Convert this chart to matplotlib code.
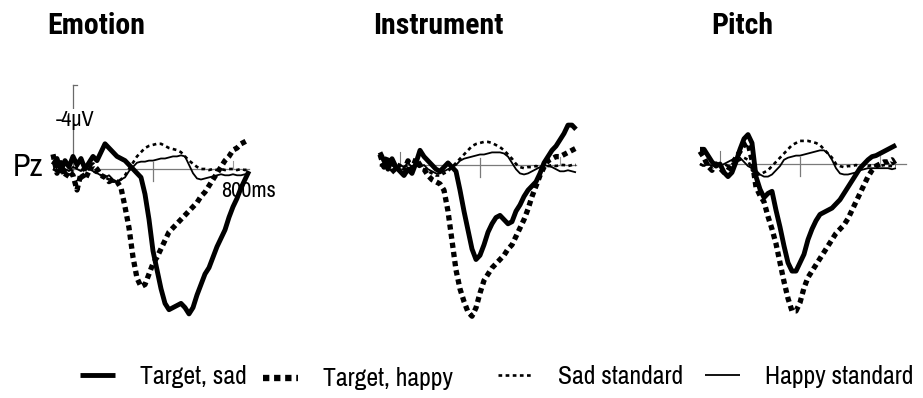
import numpy as np
import matplotlib
matplotlib.use('Agg')
from matplotlib import pyplot as plt
from matplotlib.lines import Line2D

# narrow grotesque for all labels, regular sans if it is missing
NARROW = ['Archivo Narrow', 'Liberation Sans', 'DejaVu Sans']
NARROW_BOLD = ['Roboto Condensed', 'Asap Condensed', 'Liberation Sans', 'DejaVu Sans']
plt.rcParams['font.family'] = NARROW

# time base of the averaged epochs (ms), one sample every 20 ms
t_ms = np.arange(-100, 881, 20)

conditions = ['Emotion', 'Instrument', 'Pitch']

# amplitudes in microvolts at Pz (negative plotted up)
emotion_target_sad = [
    -0.2, -0.5, 0.1, -0.4, -0.1, -0.6, -0.2, -0.5, 0.0, -0.3,
    -0.6, -0.4, -0.8, -1.2, -1.0, -0.8, -0.6, -0.5, -0.4, -0.2,
    0.0, 0.2, 0.4, 1.2, 2.4, 3.9, 4.8, 5.7, 6.4, 6.7,
    6.6, 6.5, 6.4, 6.6, 6.9, 6.6, 6.0, 5.5, 5.0, 4.7,
    4.2, 3.7, 3.3, 2.9, 2.3, 1.8, 1.4, 0.9, 0.5, 0.1]
emotion_target_happy = [
    -0.7, 0.2, -0.3, 0.4, 0.1, 0.3, 1.0, 0.2, 0.5, 0.1,
    -0.2, 0.0, 0.3, 0.4, 0.6, 0.5, 0.6, 0.9, 1.8, 2.8,
    4.2, 5.2, 5.6, 5.5, 5.0, 4.5, 4.2, 3.8, 3.4, 3.0,
    2.8, 2.6, 2.4, 2.2, 2.0, 1.8, 1.6, 1.3, 1.1, 0.8,
    0.5, 0.2, -0.1, -0.4, -0.6, -0.9, -1.0, -1.2, -1.3, -1.4]
emotion_sad_std = [
    0.0, 0.1, -0.1, 0.1, 0.0, 0.1, -0.1, 0.0, 0.1, 0.0,
    0.1, 0.2, 0.3, 0.4, 0.5, 0.6, 0.6, 0.5, 0.3, 0.0,
    -0.3, -0.6, -0.8, -1.0, -1.1, -1.15, -1.2, -1.2, -1.1, -1.0,
    -0.95, -0.9, -0.8, -0.6, -0.4, -0.25, -0.1, 0.0, 0.0, 0.05,
    0.0, 0.05, 0.0, 0.05, 0.0, 0.0, 0.05, 0.0, 0.05, 0.0]
emotion_happy_std = [
    0.0, 0.1, -0.1, 0.0, 0.1, -0.1, 0.0, 0.1, -0.1, 0.0,
    0.1, 0.2, 0.3, 0.4, 0.3, 0.5, 0.6, 0.5, 0.4, 0.1,
    -0.1, -0.3, -0.35, -0.35, -0.4, -0.4, -0.45, -0.5, -0.5, -0.55,
    -0.6, -0.6, -0.65, -0.6, -0.2, 0.2, 0.45, 0.5, 0.45, 0.4,
    0.35, 0.3, 0.25, 0.3, 0.3, 0.25, 0.3, 0.3, 0.25, 0.3]

instrument_target_sad = [
    -0.6, -0.2, 0.2, -0.3, 0.1, 0.3, 0.5, 0.2, 0.4, -0.1,
    -0.7, -0.4, -0.2, 0.0, 0.2, 0.3, 0.1, -0.1, 0.1, 0.3,
    1.2, 2.2, 3.1, 4.0, 4.5, 4.3, 3.8, 3.2, 2.8, 2.5,
    2.4, 2.6, 2.8, 2.7, 2.2, 1.9, 1.5, 1.2, 1.0, 0.8,
    0.4, -0.1, -0.4, -0.7, -0.9, -1.2, -1.5, -1.9, -1.9, -1.7]
instrument_target_happy = [
    -0.5, 0.1, -0.4, 0.2, 0.4, 0.1, 0.3, -0.2, 0.2, -0.3,
    0.0, 0.2, 0.5, 0.7, 0.8, 0.9, 1.2, 2.2, 3.6, 5.0,
    5.9, 6.5, 7.0, 7.2, 6.8, 6.1, 5.5, 5.2, 4.9, 4.7,
    4.5, 4.3, 4.0, 3.8, 3.4, 3.0, 2.6, 2.1, 1.5, 1.0,
    0.5, 0.1, -0.2, -0.3, -0.4, -0.4, -0.5, -0.6, -0.7, -0.8]
instrument_sad_std = [
    0.0, 0.1, 0.0, 0.1, -0.1, 0.0, 0.1, 0.0, 0.1, 0.0,
    0.1, 0.2, 0.3, 0.4, 0.5, 0.5, 0.4, 0.3, 0.1, -0.1,
    -0.3, -0.5, -0.7, -0.9, -1.0, -1.05, -1.1, -1.1, -1.05, -0.95,
    -0.85, -0.7, -0.5, -0.3, -0.05, 0.1, 0.15, 0.1, 0.1, 0.05,
    0.1, 0.0, 0.05, 0.0, 0.05, 0.0, 0.0, 0.05, 0.0, 0.0]
instrument_happy_std = [
    0.0, -0.1, 0.1, 0.0, 0.2, 0.0, 0.1, -0.1, 0.1, 0.0,
    0.1, 0.0, 0.2, 0.3, 0.4, 0.4, 0.3, 0.2, 0.1, 0.0,
    -0.2, -0.3, -0.35, -0.4, -0.45, -0.5, -0.5, -0.55, -0.6, -0.6,
    -0.6, -0.55, -0.4, -0.1, 0.2, 0.4, 0.45, 0.4, 0.3, 0.2,
    0.1, 0.0, 0.05, 0.1, 0.2, 0.3, 0.3, 0.25, 0.3, 0.35]

pitch_target_sad = [
    -0.7, -0.7, -0.4, -0.1, 0.1, 0.0, 0.4, 0.6, 0.4, -0.1,
    -0.7, -1.2, -1.4, -1.0, 0.6, 1.2, 1.6, 1.4, 1.3, 2.2,
    3.0, 3.9, 4.7, 5.1, 5.1, 4.7, 4.3, 3.6, 3.1, 2.7,
    2.4, 2.3, 2.2, 2.1, 1.9, 1.7, 1.4, 1.1, 0.8, 0.5,
    0.2, 0.0, -0.2, -0.35, -0.4, -0.5, -0.6, -0.7, -0.8, -0.9]
pitch_target_happy = [
    -0.6, -0.3, 0.1, 0.3, 0.0, 0.2, 0.4, 0.3, 0.0, -0.3,
    -0.6, -0.9, -1.0, -0.2, 1.1, 1.5, 1.8, 2.5, 3.1, 3.8,
    4.7, 5.6, 6.4, 7.0, 7.0, 6.6, 5.9, 5.4, 5.1, 4.8,
    4.5, 4.2, 3.9, 3.6, 3.3, 3.1, 2.9, 2.6, 2.2, 1.8,
    1.4, 1.0, 0.6, 0.3, 0.1, 0.0, -0.1, -0.1, -0.2, 0.1]
pitch_sad_std = [
    0.0, 0.1, 0.0, 0.1, 0.0, 0.1, 0.0, 0.1, 0.0, -0.1,
    -0.2, -0.3, -0.2, 0.3, 0.5, 0.5, 0.4, 0.3, 0.1, -0.1,
    -0.3, -0.5, -0.7, -0.9, -1.0, -1.1, -1.1, -1.1, -1.05, -1.0,
    -0.9, -0.7, -0.5, -0.3, 0.0, 0.1, 0.15, 0.1, 0.1, 0.05,
    0.1, 0.05, 0.1, 0.05, 0.1, 0.1, 0.05, 0.1, 0.1, 0.1]
pitch_happy_std = [
    0.0, 0.1, 0.0, 0.1, 0.0, 0.1, 0.0, -0.1, -0.2, -0.3,
    -0.3, -0.1, 0.1, 0.2, 0.3, 0.5, 0.6, 0.6, 0.5, 0.3,
    0.1, -0.2, -0.3, -0.35, -0.4, -0.4, -0.45, -0.5, -0.55, -0.6,
    -0.65, -0.65, -0.5, -0.2, 0.2, 0.45, 0.5, 0.5, 0.45, 0.4,
    0.3, 0.25, 0.2, 0.2, 0.2, 0.2, 0.2, 0.2, 0.25, 0.2]

series_labels = ['Target, sad', 'Target, happy', 'Sad standard', 'Happy standard']
panels = [
    [emotion_target_sad, emotion_target_happy, emotion_sad_std, emotion_happy_std],
    [instrument_target_sad, instrument_target_happy, instrument_sad_std, instrument_happy_std],
    [pitch_target_sad, pitch_target_happy, pitch_sad_std, pitch_happy_std],
]

# line style per series: (linewidth, dashes or None)
styles = [
    dict(lw=3.5, dashes=None),
    dict(lw=3.8, dashes=(1.0, 0.75)),
    dict(lw=1.9, dashes=(1.4, 1.3)),
    dict(lw=1.3, dashes=None),
]

W, H = 923, 398
fig = plt.figure(figsize=(W / 100, H / 100), dpi=100)

# scale: 0.2 px per ms, 21 px per microvolt
px_ms, px_uv = 0.2, 21.0
t_lo, t_hi = -130, 950
v_top, v_bot = -4.6, 8.2
origins = [(73, 169), (400, 165), (720, 164)]   # pixel of (0 ms, 0 uV)
title_x = [47, 373, 711]

for i, (name, traces) in enumerate(zip(conditions, panels)):
    x0, y0 = origins[i]
    left = x0 + t_lo * px_ms
    top = y0 + v_top * px_uv
    w = (t_hi - t_lo) * px_ms
    h = (v_bot - v_top) * px_uv
    ax = fig.add_axes([left / W, (H - top - h) / H, w / W, h / H])
    ax.set_xlim(t_lo, t_hi)
    ax.set_ylim(v_bot, v_top)
    ax.axis('off')

    # baseline and time ticks
    ax.plot([-80 if i == 0 else -100, 880 if i < 2 else 930], [0, 0],
            color='#7a7a7a', lw=0.9, zorder=1)
    ax.plot([400, 400], [-0.35, 0.55], color='#7a7a7a', lw=0.9, zorder=1)
    ax.plot([800, 800], [-0.4, 0], color='#9a9a9a', lw=0.8, zorder=1)
    if i == 0:
        ax.plot([0, 0], [-4.0, 0.1], color='#6a6a6a', lw=0.9, zorder=1)
        ax.plot([0, 20], [-4.0, -4.0], color='#6a6a6a', lw=0.9, zorder=1)
        ax.text(12, -2.35, '-4µV', fontsize=16, ha='center', va='center',
                bbox=dict(facecolor='white', edgecolor='none', pad=0.2), zorder=2)
        ax.text(875, 1.05, '800ms', fontsize=16, ha='center', va='center', zorder=0)
    else:
        ax.plot([0, 0], [-0.6, 0.2], color='#7a7a7a', lw=0.8, zorder=1)

    for vals, st in zip(traces, styles):
        ln, = ax.plot(t_ms, vals, color='black', lw=st['lw'], zorder=3,
                      solid_capstyle='butt', solid_joinstyle='round')
        if st['dashes'] is not None:
            ln.set_dashes(st['dashes'])
            ln.set_dash_capstyle('butt')

    fig.text(title_x[i] / W, 1 - 26 / H, name, fontsize=21.5, fontweight='bold',
             family=NARROW_BOLD, ha='left', va='center')

fig.text(13 / W, 1 - 167 / H, 'Pz', fontsize=23, ha='left', va='center')

# legend, one entry at a time so the gaps can differ
leg_x = [80, 263, 498, 705]
leg_y = [376, 379, 376, 376]
for j, lab in enumerate(series_labels):
    st = styles[j]
    kw = dict(color='black', lw=st['lw'] * (1.2 if j == 1 else 1.0), solid_capstyle='butt')
    if st['dashes'] is not None:
        kw['dashes'] = st['dashes']
    h = Line2D([], [], **kw)
    fig.legend([h], [lab], loc='center left', bbox_to_anchor=(leg_x[j] / W, 1 - leg_y[j] / H),
               frameon=False, fontsize=18.5, handlelength=1.35, handletextpad=1.0,
               borderpad=0, borderaxespad=0)

fig.savefig('out.png', dpi=100)
